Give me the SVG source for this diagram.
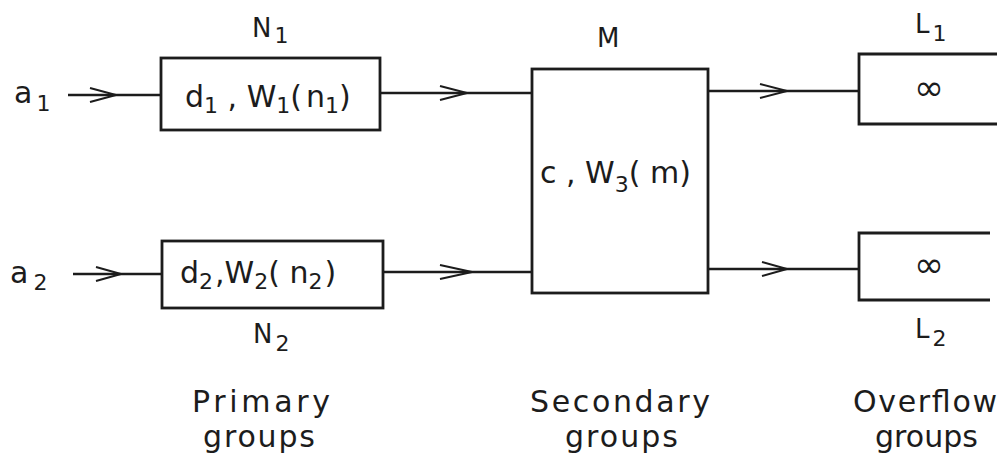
<svg xmlns="http://www.w3.org/2000/svg" width="1006" height="461" viewBox="0 0 1006 461">
<style>
.box{fill:none;stroke:#1c1c1c;stroke-width:2.8}
.ln{fill:none;stroke:#1c1c1c;stroke-width:2.6}
.hd{fill:none;stroke:#1c1c1c;stroke-width:2;stroke-linejoin:miter}
text{font-family:"DejaVu Sans","Liberation Sans",sans-serif;fill:#1c1c1c}
.t{font-size:30px}
.n{font-size:26px}
.s{font-size:22px}
.lb{font-size:30px}
.inf{font-size:36px}
</style>
<rect width="1006" height="461" fill="#ffffff"/>

<g id="connectors">
  <path class="ln" d="M68,95 H161"/>
  <path class="hd" d="M90,88 L116,95 L90,102"/>
  <path class="ln" d="M380,93 H532"/>
  <path class="hd" d="M440,86 L467,93 L440,100"/>
  <path class="ln" d="M708,91 H859"/>
  <path class="hd" d="M760,84 L787,91 L760,98"/>
  <path class="ln" d="M73,274 H162"/>
  <path class="hd" d="M96,267 L121,274 L96,281"/>
  <path class="ln" d="M383,272 H532"/>
  <path class="hd" d="M440,265 L472,272 L440,279"/>
  <path class="ln" d="M708,269 H859"/>
  <path class="hd" d="M762,262 L787,269 L762,276"/>
</g>

<g id="a1">
  <text class="t" x="14" y="103">a<tspan class="s" dx="4" dy="8">1</tspan></text>
</g>
<g id="a2">
  <text class="t" x="10" y="283">a<tspan class="s" dx="5" dy="7">2</tspan></text>
</g>

<g id="N1">
  <rect class="box" x="161" y="58" width="219" height="72"/>
  <text class="n" x="252" y="37">N<tspan class="s" dx="3" dy="6">1</tspan></text>
  <text class="t" x="185" y="107">d<tspan class="s" dy="6">1</tspan><tspan dy="-6"> , W</tspan><tspan class="s" dy="6">1</tspan><tspan dy="-6">(</tspan><tspan dx="4">n</tspan><tspan class="s" dy="6">1</tspan><tspan dy="-6">)</tspan></text>
</g>

<g id="N2">
  <rect class="box" x="162" y="241" width="221" height="67"/>
  <text class="n" x="253" y="343">N<tspan class="s" dx="3" dy="8">2</tspan></text>
  <text class="t" x="180" y="283">d<tspan class="s" dy="6">2</tspan><tspan dy="-6" dx="2">,W</tspan><tspan class="s" dy="6">2</tspan><tspan dy="-6">( n</tspan><tspan class="s" dy="6">2</tspan><tspan dy="-6" dx="2">)</tspan></text>
</g>

<g id="M">
  <rect class="box" x="532" y="69" width="176" height="224"/>
  <text class="n" x="597" y="47">M</text>
  <text class="t" x="540" y="183">c , W<tspan class="s" dy="9">3</tspan><tspan dy="-9">( m)</tspan></text>
</g>

<g id="L1">
  <path class="box" d="M997,54 H859 V124 H997"/>
  <text class="n" x="915" y="33">L<tspan class="s" dx="3" dy="8">1</tspan></text>
  <text class="inf" x="929" y="100" text-anchor="middle">∞</text>
</g>

<g id="L2">
  <path class="box" d="M990,233 H859 V300 H990"/>
  <text class="n" x="915" y="338">L<tspan class="s" dx="3" dy="8">2</tspan></text>
  <text class="inf" x="929" y="277" text-anchor="middle">∞</text>
</g>

<g id="labels">
  <text class="lb" x="192" y="412" textLength="138" lengthAdjust="spacing">Primary</text>
  <text class="lb" x="203" y="447" textLength="112" lengthAdjust="spacing">groups</text>
  <text class="lb" x="530" y="412" textLength="180" lengthAdjust="spacing">Secondary</text>
  <text class="lb" x="565" y="447" textLength="113" lengthAdjust="spacing">groups</text>
  <text class="lb" x="853" y="412" textLength="144" lengthAdjust="spacing">Overflow</text>
  <text class="lb" x="875" y="447" textLength="103" lengthAdjust="spacing">groups</text>
</g>
</svg>
